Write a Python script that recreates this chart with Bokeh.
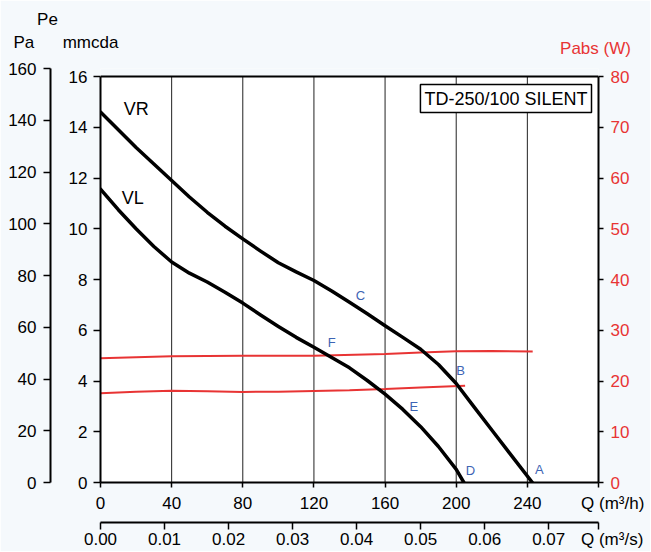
from bokeh.plotting import figure
from bokeh.models import (Range1d, LinearAxis, FixedTicker, Label, NumeralTickFormatter,
                          Span, BoxAnnotation)
from bokeh.embed import file_html
from bokeh.resources import INLINE
from bokeh.core.properties import value

# ---------------- data ----------------
PA_PER_MMCDA = 9.80665
W_PER_MMCDA = 5.0
Q_MAX = 280          # m3/h
PA_MAX = 160         # Pa

# VR curve (Q m3/h, Pe mmcda)
q_vr = [0, 10, 20, 30, 40, 50, 60, 70, 80, 90, 100, 110, 120, 130, 140, 150, 160,
        170, 180, 190, 200, 210, 220, 230, 242.8]
h_vr = [14.6, 13.9, 13.2, 12.55, 11.9, 11.25, 10.65, 10.1, 9.6, 9.12, 8.66, 8.3, 7.96,
        7.55, 7.1, 6.65, 6.18, 5.72, 5.25, 4.65, 3.9, 2.98, 2.07, 1.16, 0.0]

# VL curve
q_vl = [0, 10, 20, 30, 40, 50, 60, 70, 80, 90, 100, 110, 120, 130, 140, 150, 160,
        170, 180, 190, 200, 204.3]
h_vl = [11.56, 10.75, 10.0, 9.3, 8.69, 8.25, 7.9, 7.5, 7.07, 6.6, 6.15, 5.72, 5.33,
        4.93, 4.52, 4.02, 3.48, 2.88, 2.2, 1.42, 0.52, 0.0]

# Absorbed power (W)
q_pabs_vr = [0, 40, 80, 120, 160, 180, 200, 220, 243]
w_pabs_vr = [24.5, 24.9, 25.0, 25.0, 25.3, 25.6, 25.85, 25.9, 25.8]
q_pabs_vl = [0, 20, 40, 60, 80, 100, 120, 140, 160, 180, 205]
w_pabs_vl = [17.6, 17.9, 18.1, 18.0, 17.85, 17.9, 18.05, 18.2, 18.4, 18.7, 19.05]

# curve names and operating point letters
curve_names = ["VR", "VL"]
curve_name_q = [20.1, 18.2]
curve_name_h = [14.7, 11.2]
point_names = ["A", "B", "C", "D", "E", "F"]
point_q = [246.8, 202.4, 146.1, 208.0, 176.2, 130.0]
point_h = [0.5, 4.42, 7.35, 0.48, 2.99, 5.53]

# ticks
q_h_ticks = [0, 40, 80, 120, 160, 200, 240]
q_s_ticks = [0.0, 0.01, 0.02, 0.03, 0.04, 0.05, 0.06, 0.07]
mmcda_ticks = [0, 2, 4, 6, 8, 10, 12, 14, 16]
pa_ticks = [0, 20, 40, 60, 80, 100, 120, 140, 160]
w_ticks = [0, 10, 20, 30, 40, 50, 60, 70, 80]
grid_q = [40, 80, 120, 160, 200, 240]

# texts
title_text = "TD-250/100 SILENT"
q_h_label = "Q (m³/h)"
q_s_label = "Q (m³/s)"
pe_label = "Pe"
pa_label = "Pa"
mmcda_label = "mmcda"
pabs_label = "Pabs (W)"

# ---------------- style ----------------
FONT = "Liberation Sans"
RED = "#e83434"
BLUE = "#3d64b4"
FS = "17px"
BG = "#f5f9fc"
NB = "\u00a0"

mm_max = PA_MAX / PA_PER_MMCDA
q_h_end = Q_MAX                 # tick carrying the unit text on the m3/h axis
q_s_end = 0.0777                # tick carrying the unit text on the m3/s axis

p = figure(width=650, height=551, output_backend="svg", toolbar_location=None,
           x_range=Range1d(0, Q_MAX), y_range=Range1d(0, mm_max),
           min_border_left=100, min_border_right=52, min_border_top=68, min_border_bottom=69)
p.outline_line_color = None
p.background_fill_color = BG
p.border_fill_color = BG

p.extra_x_ranges = {"qs": Range1d(0, Q_MAX / 3600.0)}
p.extra_y_ranges = {"pa": Range1d(0, PA_MAX), "w": Range1d(0, mm_max * W_PER_MMCDA)}

# white chart area (inside the 0..16 mmcda box)
p.add_layout(BoxAnnotation(left=0, right=Q_MAX, bottom=0, top=mmcda_ticks[-1],
                           fill_color="white", fill_alpha=1, line_color=None, level="underlay"))

def style_axis(ax, tick_out, standoff, color="black"):
    ax.axis_line_color = "black"
    ax.axis_line_width = 2
    ax.major_tick_line_color = "black"
    ax.major_tick_line_width = 1.5
    ax.major_tick_out = tick_out
    ax.major_tick_in = 0
    ax.minor_tick_line_color = None
    ax.major_label_text_font = FONT
    ax.major_label_text_font_size = FS
    ax.major_label_text_color = color
    ax.major_label_standoff = standoff

# main x axis (m3/h) - unit text carried by the tick at the right edge
xa = p.xaxis[0]
xa.ticker = FixedTicker(ticks=q_h_ticks + [q_h_end])
xa.major_label_overrides = {q_h_end: NB * 6 + q_h_label}
style_axis(xa, 5, 6)
xa.axis_label = " "
xa.axis_label_text_font_size = "1px"
xa.axis_label_standoff = 3

# second x axis (m3/s)
xs = LinearAxis(x_range_name="qs", ticker=FixedTicker(ticks=q_s_ticks + [q_s_end]),
                formatter=NumeralTickFormatter(format="0.00"))
xs.major_label_overrides = {q_s_end: NB * 6 + q_s_label}
style_axis(xs, 7, 0)
p.add_layout(xs, "below")

# main y axis (mmcda)
ya = p.yaxis[0]
ya.ticker = FixedTicker(ticks=mmcda_ticks)
ya.bounds = (0, mmcda_ticks[-1])
style_axis(ya, 7, 6)
ya.axis_label = " "
ya.axis_label_text_font_size = "1px"
ya.axis_label_standoff = 11

# Pa axis
yp = LinearAxis(y_range_name="pa", ticker=FixedTicker(ticks=pa_ticks), bounds=(0, PA_MAX))
style_axis(yp, 7, 7)
p.add_layout(yp, "left")

# Pabs axis (right)
yw = LinearAxis(y_range_name="w", ticker=FixedTicker(ticks=w_ticks), bounds=(0, w_ticks[-1]))
style_axis(yw, 5, 7, color=RED)
p.add_layout(yw, "right")

# grid
p.xgrid.visible = False
p.ygrid.ticker = FixedTicker(ticks=mmcda_ticks[1:-1])
p.ygrid.grid_line_color = "#333333"
p.ygrid.grid_line_width = 1
p.add_layout(Span(location=mmcda_ticks[-1], dimension="width", line_color="black", line_width=2))
p.segment(x0=grid_q, y0=[0] * len(grid_q), x1=grid_q, y1=[mmcda_ticks[-1]] * len(grid_q),
          line_color="#222222", line_width=1)

# power curves
p.line(q_pabs_vr, w_pabs_vr, y_range_name="w", line_color=RED, line_width=2)
p.line(q_pabs_vl, w_pabs_vl, y_range_name="w", line_color=RED, line_width=2)

# pressure curves
p.line(q_vr, h_vr, line_color="black", line_width=3.5, line_cap="round", line_join="round")
p.line(q_vl, h_vl, line_color="black", line_width=3.5, line_cap="round", line_join="round")

p.text(x=curve_name_q, y=curve_name_h, text=curve_names, text_font=value(FONT),
       text_font_size="18px", text_align="center", text_baseline="middle", text_color="black")
p.text(x=point_q, y=point_h, text=point_names, text_font=value(FONT),
       text_font_size="13px", text_align="center", text_baseline="middle", text_color=BLUE)

# header texts, placed in the top side panel (canvas units, not clipped)
p.add_layout(Label(text=NB * 5 + pe_label + "\n" + pa_label + NB * 6 + mmcda_label,
                   x=13, y=9, x_units="canvas", y_units="canvas",
                   text_align="left", text_baseline="top", text_line_height=1.25,
                   text_color="black", text_font=FONT, text_font_size=FS), "above")
p.add_layout(Label(text=pabs_label, x=595, y=48, x_units="canvas", y_units="canvas",
                   text_align="center", text_baseline="middle",
                   text_color=RED, text_font=FONT, text_font_size=FS), "above")

# model name box (inside the chart)
p.add_layout(Label(text=title_text, x=591, y=84, x_units="canvas", y_units="canvas",
                   text_align="right", text_baseline="top", text_font=FONT,
                   text_font_size="18px", text_color="black",
                   border_line_color="black", border_line_width=1.5,
                   background_fill_color="white", padding=4))

open("out.html", "w").write(file_html(p, INLINE))
